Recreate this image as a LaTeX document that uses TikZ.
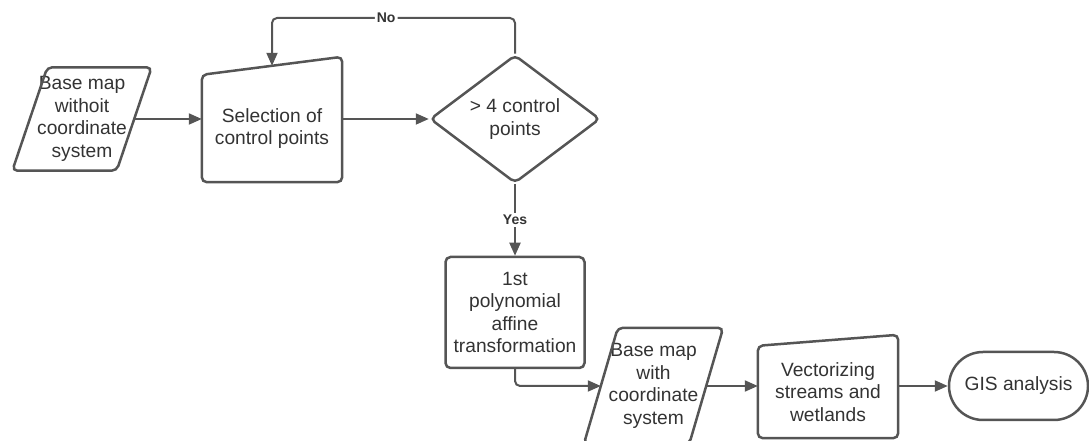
\documentclass[tikz,border=0pt]{standalone}
\usepackage{fontspec}
\setmainfont{Liberation Sans}
\usetikzlibrary{arrows.meta,calc,shapes.geometric}
\begin{document}
\begin{tikzpicture}[x=1pt,y=1pt,font=\fontsize{19.2}{22.6}\selectfont]
  \definecolor{gline}{HTML}{555555}
  \definecolor{gtext}{HTML}{333333}
  \tikzset{
    box/.style={align=center,text=gtext,inner sep=0pt},
    outline/.style={draw=gline,line width=2.5pt,rounded corners=5pt},
    flow/.style={draw=gline,line width=2pt,-{Triangle[length=13pt,width=11pt]}},
    tag/.style={font=\bfseries\fontsize{14}{14}\selectfont,text=gtext,fill=white,inner sep=2pt}
  }
  \path[use as bounding box] (0,0) rectangle (1089,441);
  % shapes
  \node[box,minimum width=104pt,minimum height=103pt] (basein) at (82,322) {Base map\\withoit\\coordinate\\system};
  \node[box,minimum width=140pt,minimum height=107pt] (select) at (272,312.5) {Selection of\\control points};
  \node[box,diamond,aspect=1.33,outline,minimum width=170pt,minimum height=128pt] (decide) at (515,322) {> 4 control\\points};
  \node[box,outline,minimum width=139pt,minimum height=111pt] (trans) at (515,128.5) {1st\\polynomial\\affine\\transformation};
  \node[box,minimum width=105pt,minimum height=116pt] (baseout) at (653.5,55) {Base map\\with\\coordinate\\system};
  \node[box,minimum width=140pt,minimum height=92pt] (vector) at (828,49) {Vectorizing\\streams and\\wetlands};
  \node[box,outline,rounded corners=34pt,minimum width=139pt,minimum height=68pt] (gis) at (1018.5,55) {GIS analysis};
  \foreach \n/\s in {basein/17.5,baseout/17}{
    \draw[outline] ($(\n.north west)+(\s,0)$) -- ($(\n.north east)+(\s,0)$)
      -- ($(\n.south east)+(-\s,0)$) -- ($(\n.south west)+(-\s,0)$) -- cycle;
  }
  \foreach \n/\r in {select/18,vector/11}{
    \draw[outline] (\n.north west) -- ($(\n.north east)+(0,\r)$) -- (\n.south east) -- (\n.south west) -- cycle;
  }
  % connectors
  \coordinate (looptop) at (515,423);
  \coordinate (selecttop) at ($(select.north)+(0,9)$);
  \draw[flow] (basein.east) -- (basein.east -| select.west);
  \draw[flow] (select.east |- decide.west) -- (decide.west);
  \draw[flow,rounded corners=5pt] (decide.north) -- (looptop) -| node[tag,pos=0.265] {No} (selecttop);
  \draw[flow] (decide.south) -- node[tag] {Yes} (trans.north);
  \draw[flow,rounded corners=5pt] (trans.south) |- (baseout.west);
  \draw[flow] (baseout.east) -- (baseout.east -| vector.west);
  \draw[flow] (vector.east |- gis.west) -- (gis.west);
\end{tikzpicture}
\end{document}
